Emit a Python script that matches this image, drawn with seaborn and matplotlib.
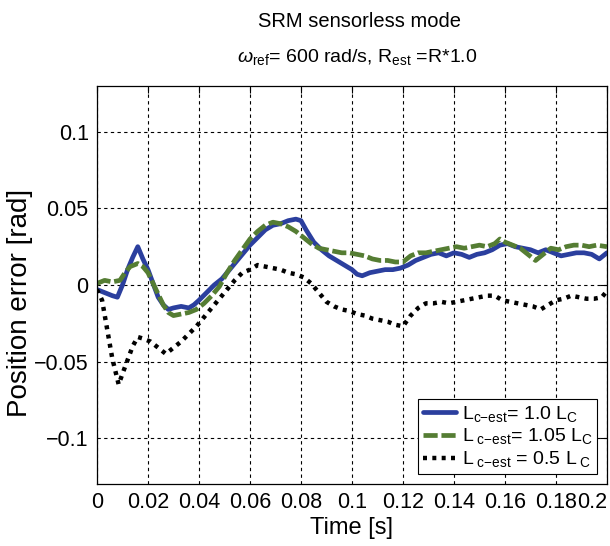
import numpy as np
import pandas as pd
import matplotlib
matplotlib.use("Agg")
import matplotlib.pyplot as plt
import seaborn as sns

# Position error traces
t_blue = [0.000, 0.003, 0.006, 0.008, 0.010, 0.012, 0.014, 0.016, 0.018, 0.020,
          0.022, 0.024, 0.026, 0.028, 0.030, 0.033, 0.036, 0.038, 0.040, 0.043,
          0.046, 0.049, 0.052, 0.055, 0.058, 0.060, 0.063, 0.066, 0.069, 0.072,
          0.075, 0.078, 0.080, 0.082, 0.085, 0.088, 0.091, 0.094, 0.097, 0.100,
          0.102, 0.104, 0.107, 0.110, 0.113, 0.116, 0.119, 0.122, 0.125, 0.128,
          0.131, 0.134, 0.137, 0.140, 0.143, 0.146, 0.149, 0.152, 0.155, 0.158,
          0.161, 0.164, 0.167, 0.170, 0.173, 0.176, 0.179, 0.182, 0.185, 0.188,
          0.191, 0.194, 0.197, 0.200]
e_blue = [-0.003, -0.005, -0.007, -0.008, 0.000, 0.010, 0.018, 0.025, 0.017, 0.010,
          0.001, -0.008, -0.013, -0.016, -0.015, -0.014, -0.015, -0.013, -0.010, -0.005,
          0.000, 0.004, 0.010, 0.016, 0.022, 0.026, 0.031, 0.036, 0.039, 0.040,
          0.042, 0.043, 0.042, 0.036, 0.028, 0.023, 0.019, 0.016, 0.013, 0.010,
          0.007, 0.006, 0.008, 0.009, 0.010, 0.010, 0.011, 0.013, 0.016, 0.018,
          0.020, 0.021, 0.019, 0.021, 0.020, 0.018, 0.020, 0.021, 0.023, 0.026,
          0.027, 0.025, 0.024, 0.023, 0.021, 0.023, 0.021, 0.019, 0.020, 0.021,
          0.021, 0.020, 0.017, 0.021]

t_green = [0.000, 0.003, 0.006, 0.009, 0.011, 0.013, 0.016, 0.018, 0.020, 0.022,
           0.024, 0.026, 0.028, 0.030, 0.033, 0.036, 0.039, 0.042, 0.045, 0.048,
           0.051, 0.054, 0.057, 0.060, 0.063, 0.066, 0.069, 0.072, 0.075, 0.078,
           0.081, 0.084, 0.087, 0.090, 0.093, 0.096, 0.099, 0.102, 0.105, 0.108,
           0.111, 0.114, 0.117, 0.120, 0.123, 0.126, 0.129, 0.132, 0.135, 0.138,
           0.141, 0.144, 0.147, 0.150, 0.153, 0.156, 0.158, 0.160, 0.163, 0.166,
           0.169, 0.172, 0.175, 0.178, 0.181, 0.184, 0.187, 0.190, 0.193, 0.196,
           0.200]
e_green = [0.001, 0.003, 0.002, 0.003, 0.008, 0.012, 0.014, 0.012, 0.008, 0.001,
           -0.006, -0.013, -0.018, -0.020, -0.019, -0.018, -0.016, -0.012, -0.007, -0.001,
           0.008, 0.016, 0.023, 0.030, 0.035, 0.039, 0.041, 0.040, 0.038, 0.035,
           0.031, 0.027, 0.024, 0.023, 0.022, 0.021, 0.021, 0.020, 0.019, 0.017,
           0.016, 0.016, 0.015, 0.015, 0.019, 0.021, 0.021, 0.022, 0.023, 0.024,
           0.025, 0.024, 0.025, 0.026, 0.025, 0.027, 0.030, 0.028, 0.026, 0.024,
           0.020, 0.016, 0.020, 0.024, 0.023, 0.025, 0.026, 0.026, 0.025, 0.026,
           0.025]

t_black = [0.000, 0.002, 0.004, 0.006, 0.0085, 0.010, 0.012, 0.014, 0.016, 0.018,
           0.021, 0.024, 0.027, 0.030, 0.033, 0.036, 0.039, 0.042, 0.045, 0.048,
           0.051, 0.054, 0.057, 0.060, 0.063, 0.066, 0.069, 0.072, 0.075, 0.078,
           0.081, 0.084, 0.087, 0.090, 0.093, 0.096, 0.099, 0.102, 0.105, 0.108,
           0.111, 0.114, 0.117, 0.120, 0.123, 0.126, 0.129, 0.132, 0.135, 0.138,
           0.141, 0.144, 0.147, 0.150, 0.153, 0.156, 0.159, 0.162, 0.165, 0.168,
           0.171, 0.174, 0.177, 0.180, 0.183, 0.186, 0.189, 0.192, 0.195, 0.198,
           0.200]
e_black = [-0.003, -0.010, -0.029, -0.048, -0.065, -0.058, -0.049, -0.040, -0.034, -0.035,
           -0.037, -0.041, -0.045, -0.041, -0.037, -0.032, -0.027, -0.021, -0.015, -0.009,
           -0.003, 0.003, 0.008, 0.010, 0.013, 0.012, 0.011, 0.010, 0.008, 0.007,
           0.005, 0.001, -0.005, -0.011, -0.014, -0.016, -0.017, -0.019, -0.020, -0.022,
           -0.023, -0.024, -0.026, -0.027, -0.020, -0.015, -0.012, -0.012, -0.011, -0.012,
           -0.011, -0.010, -0.009, -0.008, -0.007, -0.007, -0.010, -0.011, -0.012, -0.013,
           -0.014, -0.016, -0.013, -0.010, -0.009, -0.007, -0.008, -0.009, -0.009, -0.008,
           -0.004]

x_ticks = [0, 0.02, 0.04, 0.06, 0.08, 0.1, 0.12, 0.14, 0.16, 0.18, 0.2]
x_tick_labels = ['0', '0.02', '0.04', '0.06', '0.08', '0.1', '0.12', '0.14', '0.16', '0.18', '0.2']
y_ticks = [-0.1, -0.05, 0, 0.05, 0.1]
y_tick_labels = ['\u22120.1', '\u22120.05', '0', '0.05', '0.1']

labels = [r'L$_{\mathrm{c\mathrm{-}est}}$= 1.0 L$_{\mathrm{C}}$',
          r'L$_{\ \mathrm{c\mathrm{-}est}}$= 1.05 L$_{\mathrm{C}}$',
          r'L$_{\ \mathrm{c\mathrm{-}est}}$ = 0.5 L$_{\ \mathrm{C}}$']

sns.set_style('white')
plt.rcParams['font.family'] = ['Liberation Sans', 'DejaVu Sans']
plt.rcParams['mathtext.fontset'] = 'custom'
plt.rcParams['mathtext.rm'] = 'Liberation Sans'
plt.rcParams['mathtext.it'] = 'Liberation Sans:italic'
plt.rcParams['text.color'] = 'black'
plt.rcParams['axes.labelcolor'] = 'black'

fig = plt.figure(figsize=(6.1, 5.46), dpi=100)
ax = fig.add_axes([0.159, 0.1136, 0.836, 0.729])

blue = pd.DataFrame({'t': t_blue, 'e': e_blue})
green = pd.DataFrame({'t': t_green, 'e': e_green})
black = pd.DataFrame({'t': t_black, 'e': e_black})

sns.lineplot(data=blue, x='t', y='e', ax=ax, color='#2b3f9e', lw=3.4, label=labels[0], sort=False)
sns.lineplot(data=green, x='t', y='e', ax=ax, color='#557d33', lw=3.4, label=labels[1], sort=False,
             linestyle=(0, (3.0, 0.8)))
sns.lineplot(data=black, x='t', y='e', ax=ax, color='black', lw=3.2, label=labels[2], sort=False,
             linestyle=(0, (0.9, 1.2)))

ax.set_xlim(0, 0.2)
ax.set_ylim(-0.13, 0.13)
ax.set_xticks(x_ticks)
ax.set_xticklabels(x_tick_labels)
ax.set_yticks(y_ticks)
ax.set_yticklabels(y_tick_labels)
ax.tick_params(direction='in', length=5, width=0.8, top=True, right=True, labelsize=15.5,
               colors='black', labelcolor='black', pad=6)
ax.get_xticklabels()[-1].set_horizontalalignment('right')
ax.grid(True, color='black', linestyle=(0, (3, 3)), linewidth=0.8)
for s in ax.spines.values():
    s.set_color('black')
    s.set_linewidth(0.9)

ax.set_xlabel('Time [s]', fontsize=17, labelpad=3)
ax.set_ylabel('Position error [rad]', fontsize=20)
ax.yaxis.set_label_coords(-0.125, 0.455)

fig.text(0.59, 0.96, 'SRM sensorless mode', ha='center', va='center', fontsize=14.5)
fig.text(0.585, 0.896, r'$\omega_{\mathrm{ref}}$= 600 rad/s, R$_{\mathrm{est}}$ =R*1.0',
         ha='center', va='center', fontsize=14)

leg = ax.legend(loc='lower right', fontsize=14, frameon=True, fancybox=False,
                edgecolor='black', framealpha=1, handlelength=1.7, borderaxespad=0.5,
                labelspacing=0.15, handletextpad=0.3, borderpad=0.25)
leg.get_frame().set_linewidth(0.8)

fig.savefig('out.png', dpi=100)
